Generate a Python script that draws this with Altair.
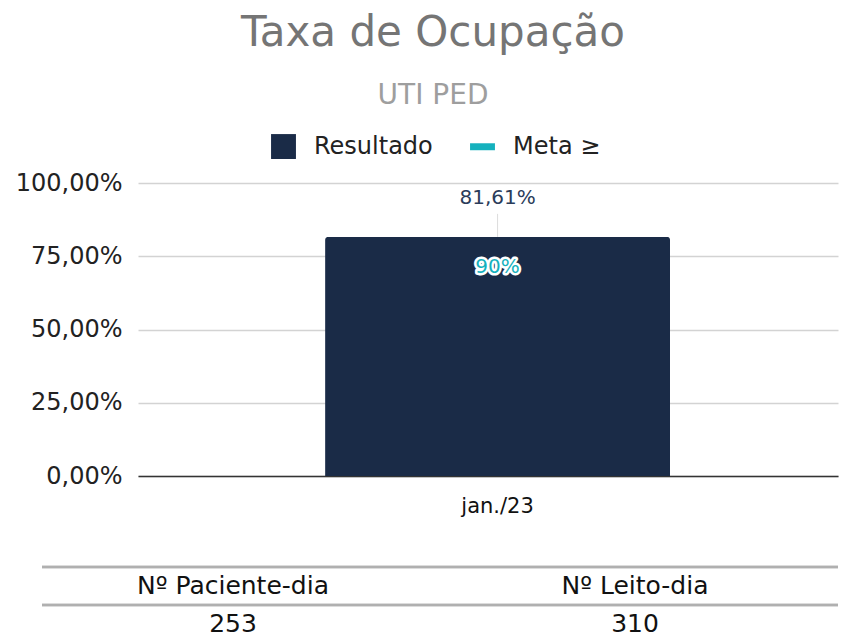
import altair as alt
import pandas as pd

# ---- data ----
meses = ["jan./23"]
resultado = [0.8161]
meta = [0.90]
series = ["Resultado", "Meta ≥"]
colunas_tabela = ["Nº Paciente-dia", "Nº Leito-dia"]
valores_tabela = [253, 310]
linhas_tabela = ["cabecalho", "valor"]

NAVY = "#1a2b47"
TEAL = "#15b1bd"
FONT = "DejaVu Sans"

df = pd.DataFrame({"mes": meses, "resultado": resultado, "meta": meta})

W = 700
H = 293

x_enc = alt.X(
    "mes:N",
    title=None,
    scale=alt.Scale(paddingInner=0, paddingOuter=0.5145, align=0.527),
    axis=alt.Axis(labelAngle=0, labelFontSize=21, labelColor="#111111", labelPadding=19,
                  ticks=False, domainColor="#333333", domainWidth=1.5, grid=False, labelFont=FONT),
)
y_enc = alt.Y(
    "resultado:Q",
    title=None,
    scale=alt.Scale(domain=[0, 1]),
    axis=alt.Axis(format=".2%", values=[0, 0.25, 0.5, 0.75, 1], labelFontSize=24, labelPadding=16,
                  ticks=False, domain=False, gridColor="#d3d3d3", gridWidth=1.5,
                  labelColor="#222222", labelFont=FONT),
)

base = alt.Chart(df)

leg = alt.Legend(title=None, orient="none", direction="horizontal",
                 legendX=133, legendY=-49, symbolSize=620,
                 labelFontSize=24, labelFont=FONT, labelColor="#222222",
                 columnPadding=37, symbolStrokeWidth=0, labelOffset=18)

# hidden legend carrier points (behind the bar)
legend_pts = base.transform_fold(["resultado", "meta"], as_=["chave", "v"]).transform_calculate(
    serie="datum.chave == 'resultado' ? 'Resultado' : 'Meta ≥'",
    ymeio="datum.resultado / 2",
).mark_point(filled=True, size=100, opacity=1).encode(
    x=x_enc,
    y=alt.Y("ymeio:Q"),
    color=alt.Color("serie:N", scale=alt.Scale(domain=series, range=[NAVY, TEAL]), legend=leg),
    shape=alt.Shape("serie:N", scale=alt.Scale(domain=series,
                                               range=["square", "M-1,-0.28L1,-0.28L1,0.28L-1,0.28Z"]),
                    legend=leg),
)

bar = base.mark_bar(color=NAVY, cornerRadiusTopLeft=3, cornerRadiusTopRight=3).encode(x=x_enc, y=y_enc)

leader = base.mark_rule(color="#dcdcdc", strokeWidth=1, y2Offset=-23).encode(
    x=x_enc, y=alt.Y("resultado:Q"), y2=alt.Y2("resultado:Q")
)

bar_label = base.mark_text(dy=-39, fontSize=20, color="#2b3c5a", font=FONT).encode(
    x=x_enc, y=alt.Y("resultado:Q"), text=alt.Text("resultado:Q", format=".2%")
)

meta_halo = base.mark_text(dy=55, fontSize=20, color="white", stroke="white", strokeWidth=5,
                           font=FONT, strokeJoin="round").encode(
    x=x_enc, y=alt.Y("meta:Q"), text=alt.Text("meta:Q", format=".0%")
)
meta_label = base.mark_text(dy=55, fontSize=20, color=TEAL, font=FONT).encode(
    x=x_enc, y=alt.Y("meta:Q"), text=alt.Text("meta:Q", format=".0%")
)

top = alt.layer(legend_pts, bar, leader, bar_label, meta_halo, meta_label).properties(
    width=W, height=H,
    title=alt.TitleParams(
        "Taxa de Ocupação", subtitle="UTI PED", anchor="middle", fontSize=42, color="#757575",
        font=FONT, fontWeight="normal", subtitleFontSize=28, subtitleColor="#9e9e9e",
        subtitleFont=FONT, subtitlePadding=27, offset=60, dx=-55,
    ),
)

# ---- table ----
tab = pd.DataFrame({
    "coluna": colunas_tabela + colunas_tabela,
    "linha": [linhas_tabela[0]] * len(colunas_tabela) + [linhas_tabela[1]] * len(colunas_tabela),
    "texto": colunas_tabela + [str(v) for v in valores_tabela],
})

tab_base = alt.Chart(tab)
y_tab = alt.Y("linha:N", title=None, axis=None,
              scale=alt.Scale(domain=linhas_tabela, paddingInner=0, paddingOuter=0))

tab_rules = tab_base.mark_rule(color="#b0b0b0", strokeWidth=2.5, x2=-96).encode(
    y=alt.Y("linha:N", title=None, axis=None, bandPosition=0,
            scale=alt.Scale(domain=linhas_tabela, paddingInner=0, paddingOuter=0))
)
tab_text = tab_base.mark_text(fontSize=25, color="#111111", font=FONT, xOffset=-54).encode(
    x=alt.X("coluna:N", title=None, axis=None,
            scale=alt.Scale(domain=colunas_tabela, type="point", padding=0.3706)),
    y=y_tab,
    text="texto:N",
)

table = alt.layer(tab_rules, tab_text).properties(width=W, height=76)

chart = alt.vconcat(top, table, spacing=49).properties(
    padding={"left": 7, "top": 4, "right": 0, "bottom": 0}
).configure(font=FONT, view={"stroke": "transparent", "strokeWidth": 0})

chart.save("out.html", embed_options={
    "renderer": "svg", "actions": False,
    "formatLocale": {"decimal": ",", "thousands": ".", "grouping": [3], "currency": ["R$", ""]},
})
